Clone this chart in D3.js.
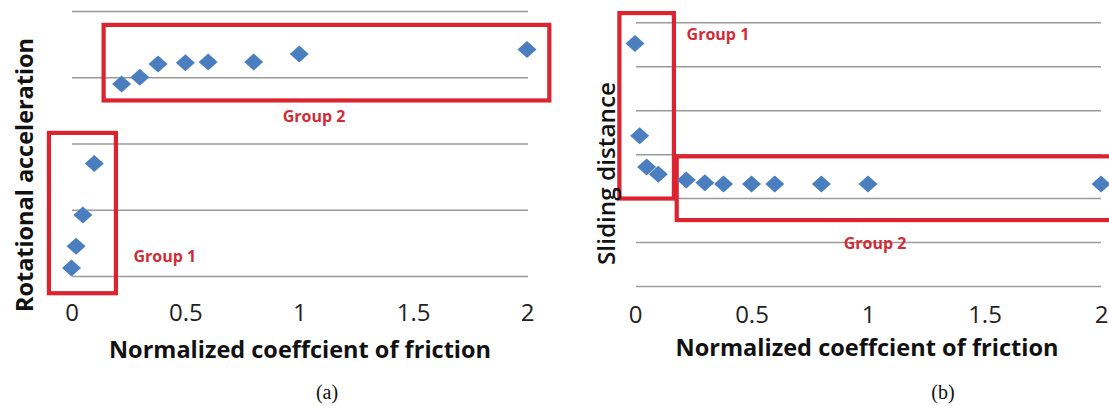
<!DOCTYPE html>
<html>
  <head>
    <style type="text/css">
      body { margin: 0; background: #fff; }
      svg text { font-family: "Open Sans", "Noto Sans", sans-serif; fill: #111; }
      .grid line { stroke: #9a9a9a; stroke-width: 1.5; }
      .tick text { font-size: 24px; fill: #222; }
      .title { font-weight: bold; font-size: 23px; }
      .group-box { fill: none; stroke: #dc2330; stroke-width: 4.2; }
      .group-label { fill: #d02c36; font-weight: bold; font-size: 16px; }
      .caption { font-family: "Liberation Serif", "DejaVu Serif", serif; font-size: 20px; fill: #111; }
      .point { fill: #4a7ebf; }
    </style>
  </head>
  <body>
    <div id="canvas"></div>

    <script type="text/javascript" src="https://cdn.jsdelivr.net/npm/d3@7/dist/d3.min.js"></script>
    <script type="text/javascript">
      // normalized friction coefficient, shared by both panels
      var frictionX = [0, 0.02, 0.05, 0.1, 0.22, 0.3, 0.38, 0.5, 0.6, 0.8, 1, 2];
      // (a) rotational acceleration, in gridline units
      var rotAccel = [0.12, 0.45, 0.92, 1.70, 2.90, 3.00, 3.20, 3.22, 3.23, 3.23, 3.35, 3.42];
      // (b) sliding distance, in gridline units
      var slideDist = [5.52, 3.42, 2.71, 2.54, 2.41, 2.35, 2.32, 2.32, 2.32, 2.32, 2.32, 2.32];
      var xTicks = [0, 0.5, 1, 1.5, 2];
      var rotGrid = [0, 1, 2, 3, 4];
      var slideGrid = [0, 1, 2, 3, 4, 5, 6];
      // group boxes: [x0, x1, yTop, yBottom] in data units
      var rotGroups = [
        {name: "Group 1", box: [-0.099, 0.195, 2.16, -0.26], label: [0.41, 0.30]},
        {name: "Group 2", box: [0.141, 2.098, 3.79, 2.65], label: [1.065, 2.415]}
      ];
      var slideGroups = [
        {name: "Group 1", box: [-0.067, 0.167, 6.21, 1.99], label: [0.356, 5.73]},
        {name: "Group 2", box: [0.179, 2.06, 2.95, 1.50], label: [1.03, 0.98]}
      ];

      var width = 1109, height = 406;
      var svg = d3.select('#canvas').append('svg')
                  .attr('width', width)
                  .attr('height', height);

      var diamond = "M0,-8.5L9.5,0L0,8.5L-9.5,0Z";

      var drawPanel = function (cfg) {
        var x = d3.scaleLinear().domain([0, 2]).range(cfg.xRange);
        var y = d3.scaleLinear().domain(cfg.yDomain).range(cfg.yRange);
        var g = svg.append('g');

        // horizontal gridlines
        g.append('g')
          .attr('class', 'grid')
          .attr('transform', 'translate(' + cfg.gridX[0] + ',0)')
          .call(d3.axisLeft(y).tickValues(cfg.grid).tickSize(-(cfg.gridX[1] - cfg.gridX[0])).tickFormat(''))
          .call(function (s) { s.select('.domain').remove(); });

        // x axis labels only
        g.append('g')
          .attr('transform', 'translate(0,' + cfg.axisY + ')')
          .call(d3.axisBottom(x).tickValues(xTicks).tickSize(0).tickPadding(0).tickFormat(d3.format('')))
          .call(function (s) { s.select('.domain').remove(); });

        // group boxes
        g.selectAll('rect.group-box')
          .data(cfg.groups)
          .enter().append('rect')
            .attr('class', 'group-box')
            .attr('x', function (d) { return x(d.box[0]); })
            .attr('y', function (d) { return y(d.box[2]); })
            .attr('width', function (d) { return x(d.box[1]) - x(d.box[0]); })
            .attr('height', function (d) { return y(d.box[3]) - y(d.box[2]); });

        g.selectAll('text.group-label')
          .data(cfg.groups)
          .enter().append('text')
            .attr('class', 'group-label')
            .attr('text-anchor', 'middle')
            .attr('dy', '0.36em')
            .attr('x', function (d) { return x(d.label[0]); })
            .attr('y', function (d) { return y(d.label[1]); })
            .text(function (d) { return d.name; });

        // points
        g.selectAll('path.point')
          .data(frictionX.map(function (v, i) { return {x: v, y: cfg.values[i]}; }))
          .enter().append('path')
            .attr('class', 'point')
            .attr('d', diamond)
            .attr('transform', function (d) { return 'translate(' + x(d.x) + ',' + y(d.y) + ')'; });

        // titles
        g.append('text')
          .attr('class', 'title')
          .attr('text-anchor', 'middle')
          .attr('dy', '0.36em')
          .attr('x', cfg.xTitle[0]).attr('y', cfg.xTitle[1])
          .attr('textLength', cfg.xTitle[2])
          .attr('lengthAdjust', 'spacingAndGlyphs')
          .text('Normalized coeffcient of friction');

        g.append('text')
          .attr('class', 'title')
          .attr('text-anchor', 'middle')
          .attr('dy', '0.36em')
          .style('font-weight', cfg.yTitleWeight)
          .attr('transform', 'translate(' + cfg.yTitle[0] + ',' + cfg.yTitle[1] + ') rotate(-90)')
          .attr('textLength', cfg.yTitle[2])
          .attr('lengthAdjust', 'spacingAndGlyphs')
          .text(cfg.yLabel);

        g.append('text')
          .attr('class', 'caption')
          .attr('text-anchor', 'middle')
          .attr('dy', '0.36em')
          .attr('x', cfg.caption[0]).attr('y', cfg.caption[1])
          .text(cfg.captionText);
      };

      drawPanel({
        xRange: [71.5, 527], yDomain: [0, 4], yRange: [276, 11],
        gridX: [72, 528], grid: rotGrid, axisY: 304,
        values: rotAccel, groups: rotGroups,
        xTitle: [300, 350, 382], yTitle: [25, 175, 274], yTitleWeight: 'bold',
        yLabel: 'Rotational acceleration',
        caption: [327, 392], captionText: '(a)'
      });

      drawPanel({
        xRange: [635, 1101], yDomain: [0, 6], yRange: [286, 22.3],
        gridX: [636, 1101], grid: slideGrid, axisY: 306,
        values: slideDist, groups: slideGroups,
        xTitle: [867, 348, 383], yTitle: [607, 173.5, 183], yTitleWeight: 600,
        yLabel: 'Sliding distance',
        caption: [943, 392], captionText: '(b)'
      });
    </script>
  </body>
</html>
